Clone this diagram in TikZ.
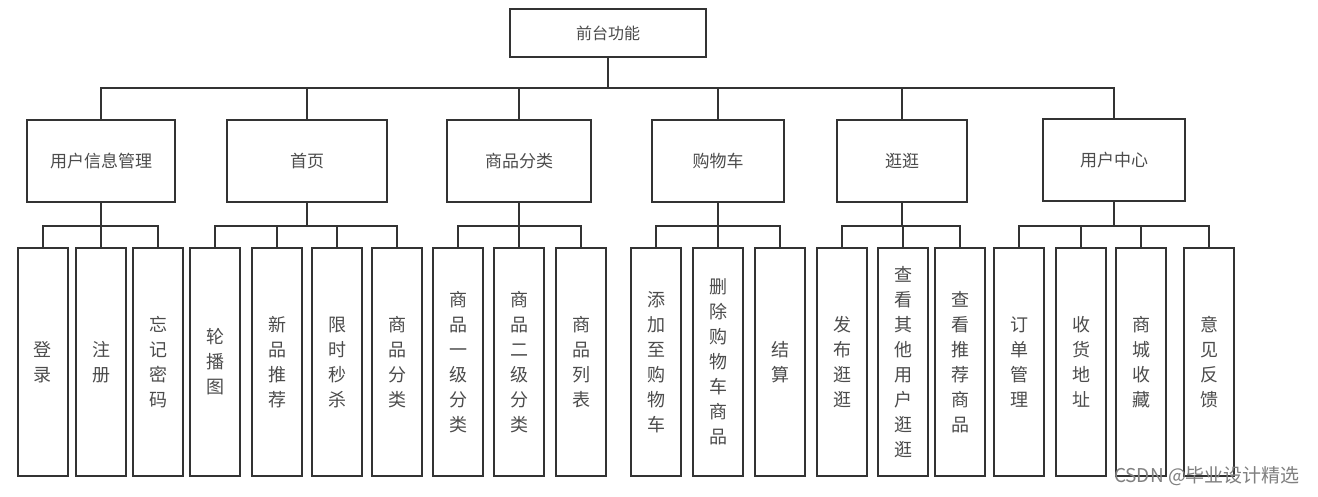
\documentclass[tikz,border=0pt]{standalone}
\usepackage{fontspec}
\setmainfont{Noto Sans CJK SC}
\begin{document}
\begin{tikzpicture}[x=1pt,y=-1pt,
  line width=2pt,
  linecol/.style={draw=black!80},
  topbox/.style={linecol,fill=white,inner sep=0pt,minimum width=196pt,minimum height=48pt,
     font=\fontsize{16}{18}\selectfont,text=black!70},
  midbox/.style={linecol,fill=white,inner sep=0pt,minimum height=82pt,
     font=\fontsize{17}{20}\selectfont,text=black!70},
  leafbox/.style={linecol,fill=white,inner sep=0pt,minimum width=50pt,minimum height=228pt,
     align=center,font=\fontsize{18}{25}\selectfont,text=black!70},
  conn/.style={linecol,line cap=rect}]
\useasboundingbox (0,0) rectangle (1318,496);
\fill[white] (0,0) rectangle (1318,496);

\node[topbox] (top) at (608,33) {前台功能};

\node[midbox,minimum width=148pt] (g1) at (101,161) {用户信息管理};
\node[midbox,minimum width=160pt] (g2) at (307,161) {首页};
\node[midbox,minimum width=144pt] (g3) at (519,161) {商品分类};
\node[midbox,minimum width=132pt] (g4) at (718,161) {购物车};
\node[midbox,minimum width=130pt] (g5) at (902,161) {逛逛};
\node[midbox,minimum width=142pt] (g6) at (1114,160) {用户中心};

\node[leafbox] (l1) at (43,362) {登\\录};
\node[leafbox] (l2) at (101,362) {注\\册};
\node[leafbox] (l3) at (158,362) {忘\\记\\密\\码};
\node[leafbox] (l4) at (215,362) {轮\\播\\图};
\node[leafbox] (l5) at (277,362) {新\\品\\推\\荐};
\node[leafbox] (l6) at (337,362) {限\\时\\秒\\杀};
\node[leafbox] (l7) at (397,362) {商\\品\\分\\类};
\node[leafbox] (l8) at (458,362) {商\\品\\一\\级\\分\\类};
\node[leafbox] (l9) at (519,362) {商\\品\\二\\级\\分\\类};
\node[leafbox] (l10) at (581,362) {商\\品\\列\\表};
\node[leafbox] (l11) at (656,362) {添\\加\\至\\购\\物\\车};
\node[leafbox] (l12) at (718,362) {删\\除\\购\\物\\车\\商\\品};
\node[leafbox] (l13) at (780,362) {结\\算};
\node[leafbox] (l14) at (842,362) {发\\布\\逛\\逛};
\node[leafbox] (l15) at (903,362) {查\\看\\其\\他\\用\\户\\逛\\逛};
\node[leafbox] (l16) at (960,362) {查\\看\\推\\荐\\商\\品};
\node[leafbox] (l17) at (1019,362) {订\\单\\管\\理};
\node[leafbox] (l18) at (1081,362) {收\\货\\地\\址};
\node[leafbox] (l19) at (1141,362) {商\\城\\收\\藏};
\node[leafbox] (l20) at (1209,362) {意\\见\\反\\馈};

% bus levels
\coordinate (busA) at (0,88);
\coordinate (busB) at (0,226);

% top level
\draw[conn] (top.south) -- (top.south |- busA);
\draw[conn] (g1.north |- busA) -- (g6.north |- busA);
\foreach \g in {g1,g2,g3,g4,g5,g6}
  \draw[conn] (\g.north) -- (\g.north |- busA);

% group buses
\foreach \g/\a/\b/\list in {g1/l1/l3/{l1,l2,l3}, g2/l4/l7/{l4,l5,l6,l7}, g3/l8/l10/{l8,l9,l10},
   g4/l11/l13/{l11,l12,l13}, g5/l14/l16/{l14,l15,l16}, g6/l17/l20/{l17,l18,l19,l20}}{
  \draw[conn] (\g.south) -- (\g.south |- busB);
  \draw[conn] (\a.north |- busB) -- (\b.north |- busB);
  \foreach \l in \list
    \draw[conn] (\l.north) -- (\l.north |- busB);
}

\node[font=\fontsize{19}{22}\selectfont,text=black!50,inner sep=0pt] (wm) at (1207,476) {CSDN @毕业设计精选};
\end{tikzpicture}
\end{document}
